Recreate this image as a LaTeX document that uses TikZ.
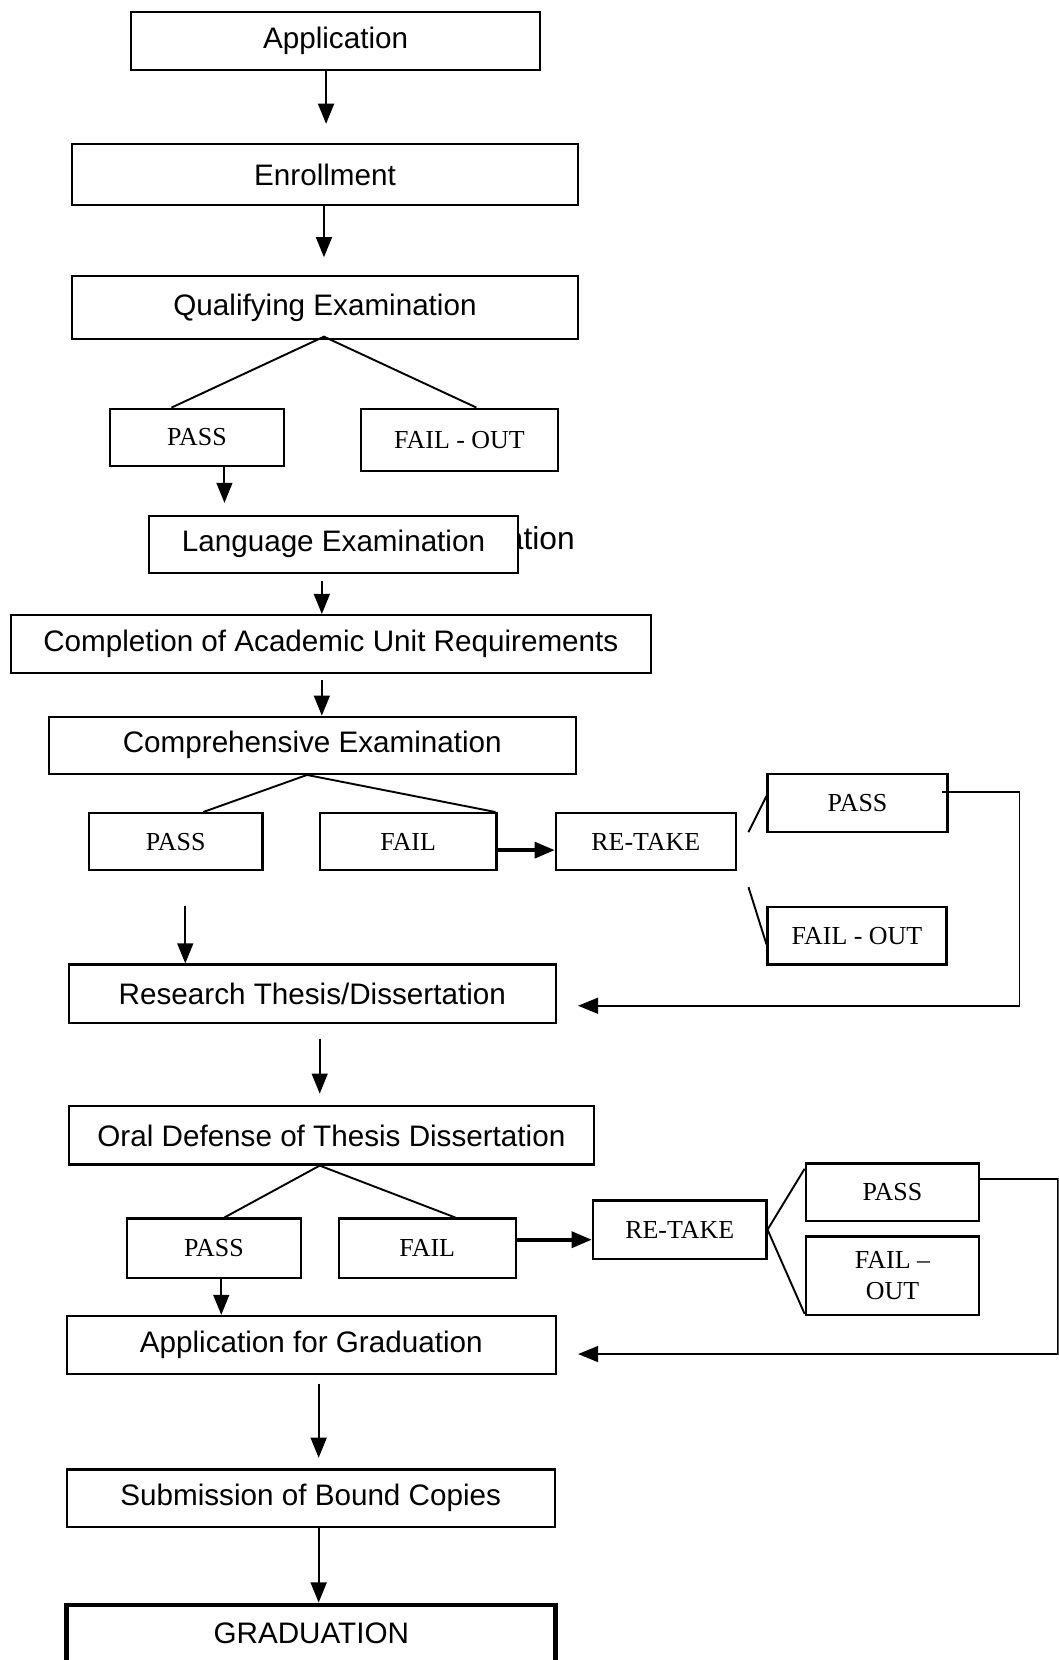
\documentclass[tikz,border=0pt]{standalone}
\usepackage{fontspec}
\setmainfont{Liberation Serif}
\setsansfont{Liberation Sans}
\usetikzlibrary{arrows.meta}

\begin{document}
\begin{tikzpicture}[x = 1pt, y = -1pt,
	stage/.style = {draw, line width = 2pt, fill = white, inner sep = 0pt, font = \sffamily\fontsize{28}{30}\selectfont},
	verdict/.style = {draw, line width = 2pt, inner sep = 0pt, align = center, font = \fontsize{24.5}{29}\selectfont},
	flow/.style = {-{Triangle[length = 19pt, width = 15pt]}, line width = 1.8pt},
	branch/.style = {line width = 1.8pt}]
	%	page
	\clip (0, 0) rectangle (1000, 1568);
	
	%	main line
	\node[stage, minimum width = 386pt, minimum height = 55pt] (app) at (317, 38.5) {Application};
	\node[stage, minimum width = 478pt, minimum height = 58pt] (enr) at (307, 165) {Enrollment};
	\node[stage, minimum width = 478pt, minimum height = 59pt] (qual) at (307, 290.5) {Qualifying Examination};
	\node[font = \sffamily\fontsize{30}{32}\selectfont] (langold) at (389.5, 511) {Language Examination};
	\node[stage, minimum width = 348pt, minimum height = 54pt] (lang) at (315, 514) {Language Examination};
	\node[stage, minimum width = 605pt, minimum height = 55pt] (compl) at (312.5, 608.5) {Completion of Academic Unit Requirements};
	\node[stage, minimum width = 498pt, minimum height = 54pt] (compr) at (295, 704) {Comprehensive Examination};
	\node[stage, minimum width = 460pt, minimum height = 55pt] (research) at (295, 938.5) {Research Thesis/Dissertation};
	\node[stage, minimum width = 496pt, minimum height = 55pt] (oral) at (313, 1072.5) {Oral Defense of Thesis Dissertation};
	\node[stage, minimum width = 462pt, minimum height = 55pt] (appgrad) at (294, 1270.5) {Application for Graduation};
	\node[stage, minimum width = 461pt, minimum height = 54pt] (submit) at (293.5, 1415) {Submission of Bound Copies};
	\node[stage, line width = 4.5pt, minimum width = 462pt, minimum height = 54pt] (grad) at (294, 1543) {GRADUATION};
	
	%	results
	\node[verdict, minimum width = 164pt, minimum height = 54pt] (pass1) at (186, 413) {PASS};
	\node[verdict, minimum width = 186pt, minimum height = 59pt] (failout1) at (434, 415.5) {FAIL - OUT};
	\node[verdict, minimum width = 164pt, minimum height = 54pt] (pass2) at (166, 795) {PASS};
	\node[verdict, minimum width = 167pt, minimum height = 54pt] (fail2) at (385.5, 795) {FAIL};
	\node[verdict, minimum width = 170pt, minimum height = 54pt] (retake1) at (610, 795) {RE-TAKE};
	\node[verdict, minimum width = 170pt, minimum height = 55pt] (pass3) at (810, 758.5) {PASS};
	\node[verdict, minimum width = 169pt, minimum height = 54pt] (failout3) at (809.5, 884) {FAIL - OUT};
	\node[verdict, minimum width = 164pt, minimum height = 56pt] (pass4) at (202, 1179) {PASS};
	\node[verdict, minimum width = 167pt, minimum height = 56pt] (fail4) at (403.5, 1179) {FAIL};
	\node[verdict, minimum width = 164pt, minimum height = 55pt] (retake2) at (642, 1161.5) {RE-TAKE};
	\node[verdict, minimum width = 164pt, minimum height = 54pt] (pass5) at (843, 1126) {PASS};
	\node[verdict, minimum width = 164pt, minimum height = 74pt] (failout5) at (843, 1205) {FAIL --\\OUT};
	
	%	arrows down
	\draw[flow, shorten >= 18pt] ([xshift = -9pt]app.south) -- ([xshift = 1pt]enr.north);
	\draw[flow, shorten >= 17pt] ([xshift = -1pt]enr.south) -- ([xshift = -1pt]qual.north);
	\draw[flow, shorten >= 11pt] ([xshift = 26pt]pass1.south) -- ([xshift = -103pt]lang.north);
	\draw[flow, shorten <= 7pt] ([xshift = -11pt]lang.south) -- ([xshift = -8.5pt]compl.north);
	\draw[flow, shorten <= 5pt] ([xshift = -8.5pt]compl.south) -- ([xshift = 9pt]compr.north);
	\coordinate (drop) at (175, 856);
	\draw[flow] (drop) -- (drop |- research.north);
	\draw[flow, shorten <= 14pt, shorten >= 11pt] ([xshift = 7pt]research.south) -- ([xshift = -11pt]oral.north);
	\draw[flow] ([xshift = 7pt]pass4.south) -- ([xshift = -85pt]appgrad.north);
	\draw[flow, shorten <= 8pt, shorten >= 10pt] ([xshift = 7pt]appgrad.south) -- ([xshift = 7.5pt]submit.north);
	\draw[flow] ([xshift = 7.5pt]submit.south) -- ([xshift = 7pt]grad.north);
	
	%	branches
	\draw[branch] ([xshift = -24pt]pass1.north) -- ([xshift = -1pt, yshift = 3pt]qual.south) -- ([xshift = 16pt]failout1.north);
	\draw[branch] ([xshift = 26pt]pass2.north) -- ([xshift = -5pt]compr.south) -- ([xshift = 82.5pt]fail2.north);
	\draw[branch] ([xshift = 10pt]pass4.north) -- ([xshift = -11pt]oral.south) -- ([xshift = 26.5pt]fail4.north);
	
	%	re-take
	\draw[flow, line width = 3.5pt] ([yshift = -8pt]fail2.east) -- ([yshift = -8pt]retake1.west);
	\draw[flow, line width = 3.5pt] ([yshift = 8pt]fail4.east) -- ([yshift = -9.5pt]retake2.west);
	\coordinate (up1) at (707, 786);
	\coordinate (down1) at (707, 838);
	\draw[branch] (up1) -- ([yshift = 6.5pt]pass3.west);
	\draw[branch] (down1) -- ([yshift = -8pt]failout3.west);
	\draw[branch] ([yshift = -6pt]pass5.north west) -- (retake2.east) -- ([yshift = 2pt]failout5.south west);
	
	%	back to main line
	\draw[flow, shorten >= 20pt] ([xshift = -6pt, yshift = 10.5pt]pass3.east) -- ++(73, 0) |- ([yshift = -11.5pt]research.east);
	\draw[flow, shorten >= 20pt] ([yshift = 12pt]pass5.east) -- ++(73, 0) |- ([yshift = -8.5pt]appgrad.east);
\end{tikzpicture}
\end{document}
